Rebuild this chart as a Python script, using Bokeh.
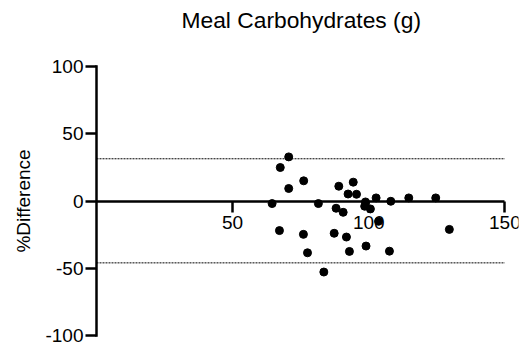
from bokeh.plotting import figure
from bokeh.models import Range1d, LinearAxis, FixedTicker, Title, PrintfTickFormatter
from bokeh.embed import file_html
from bokeh.resources import INLINE

# Data
mean_carbs = [70.6, 67.5, 76.1, 70.6, 64.5, 81.5, 89.0, 94.3, 92.4, 95.5,
              88.0, 90.6, 98.8, 98.5, 100.6, 102.7, 108.1, 114.7, 124.6,
              67.2, 76.0, 77.5, 83.5, 87.3, 91.8, 92.9, 99.0, 103.6, 107.6, 129.6]
pct_diff = [32.8, 24.9, 15.0, 9.3, -1.9, -1.9, 11.0, 14.0, 5.2, 5.0,
            -5.4, -8.4, -0.7, -3.9, -5.9, 2.3, -0.2, 2.3, 2.3,
            -22.0, -24.8, -38.5, -52.8, -24.0, -26.8, -37.5, -33.5, -15.1, -37.3, -21.1]
upper_loa = 31.4
lower_loa = -46.0
x_ticks = [50, 100, 150]
y_ticks = [-100, -50, 0, 50, 100]
title_text = "Meal Carbohydrates (g)"
y_label = "%Difference"

FONT = "Liberation Sans"
x_start, x_end = 0, x_ticks[-1]

p = figure(width=525, height=354, output_backend="svg", toolbar_location=None,
           title=None,
           x_range=Range1d(x_start, 155), y_range=Range1d(-100, 100),
           x_axis_type=None, y_axis_type=None,
           min_border_left=96, min_border_right=7, min_border_top=66,
           min_border_bottom=19)
p.outline_line_color = None
p.grid.visible = False
p.background_fill_color = "white"

yaxis = LinearAxis(ticker=FixedTicker(ticks=y_ticks), axis_label=y_label,
                   formatter=PrintfTickFormatter(format="%d"))
xaxis = LinearAxis(ticker=FixedTicker(ticks=x_ticks), fixed_location=0,
                   bounds=(x_start, x_end),
                   formatter=PrintfTickFormatter(format="%d"))
for ax in (xaxis, yaxis):
    ax.axis_line_width = 2.5
    ax.axis_line_color = "black"
    ax.major_tick_line_width = 2.5
    ax.major_tick_line_color = "black"
    ax.major_tick_out = 11
    ax.major_tick_in = 0
    ax.minor_tick_line_color = None
    ax.major_label_text_font = FONT
    ax.major_label_text_font_size = "19px"
    ax.major_label_text_color = "black"
yaxis.axis_line_cap = "square"
yaxis.major_label_standoff = 2
xaxis.major_label_standoff = 4
yaxis.axis_label_text_font = FONT
yaxis.axis_label_text_font_size = "19px"
yaxis.axis_label_text_font_style = "normal"
yaxis.axis_label_text_color = "black"
yaxis.axis_label_standoff = 8
p.add_layout(yaxis, "left")
p.add_layout(xaxis, "below")

p.segment(x0=[x_start, x_start], x1=[x_end, x_end],
          y0=[upper_loa, lower_loa], y1=[upper_loa, lower_loa],
          line_color="black", line_width=1, line_dash="2 1")

p.scatter(mean_carbs, pct_diff, size=8, color="black")

# spacer (nearest the frame), then the visible title above it
p.add_layout(Title(text=" ", text_font_size="10px", standoff=18.5), "above")
p.add_layout(Title(text=title_text, align="left", offset=85, vertical_align="top",
                   standoff=0, text_font=FONT, text_font_size="22.8px",
                   text_font_style="normal", text_color="black"), "above")

open("out.html", "w").write(file_html(p, INLINE))
